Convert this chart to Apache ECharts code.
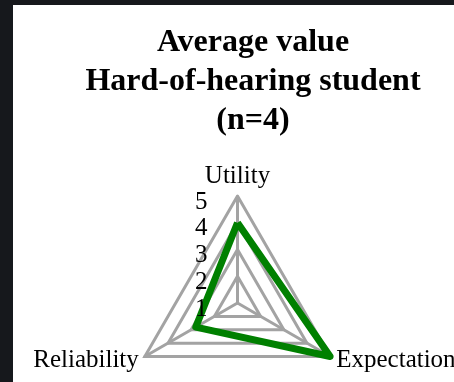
<!DOCTYPE html>
<html>
<head>
<meta charset="utf-8">
<script src="https://cdn.jsdelivr.net/npm/echarts@6/dist/echarts.min.js"></script>
<style>
  html, body { margin: 0; padding: 0; width: 454px; height: 382px; background: #16181c; overflow: hidden; }
  #panel { position: absolute; left: 13px; top: 5px; width: 441px; height: 377px; background: #ffffff; }
</style>
</head>
<body>
<div id="panel"></div>
<script>
const titleLines = ['Average value', 'Hard-of-hearing student', '(n=4)'];
const indicatorNames = ['Utility', 'Reliability', 'Expectation'];
const seriesName = 'Average value';
const seriesValues = [4.0, 2.8, 5.0];
const axisMin = 1;
const axisMax = 5;

const chart = echarts.init(document.getElementById('panel'), null, { renderer: 'canvas' });
const serif = '"Liberation Serif", "Times New Roman", serif';

const radarBase = {
  center: [224.5, 298],
  radius: 107,
  startAngle: 90,
  shape: 'polygon',
  splitNumber: 4,
  nameGap: 7
};

chart.setOption({
  animation: false,
  backgroundColor: '#ffffff',
  title: {
    text: titleLines.join('\n'),
    left: 235,
    top: 13,
    textAlign: 'center',
    textStyle: {
      fontFamily: serif,
      fontWeight: 'bold',
      fontSize: 32,
      lineHeight: 39,
      color: '#000000'
    }
  },
  radar: [
    Object.assign({}, radarBase, {
      z: 0,
      axisName: { color: '#000000', fontFamily: serif, fontSize: 25 },
      axisLine: { lineStyle: { color: '#a3a3a3', width: 3 } },
      splitLine: { lineStyle: { color: '#a3a3a3', width: 3 } },
      splitArea: { show: false },
      axisTick: { show: false },
      axisLabel: { show: false },
      indicator: indicatorNames.map(n => ({ name: n, min: axisMin, max: axisMax }))
    }),
    Object.assign({}, radarBase, {
      z: 5,
      axisName: { show: false },
      axisLine: { show: false },
      splitLine: { show: false },
      splitArea: { show: false },
      axisTick: { show: false },
      axisLabel: { show: false },
      indicator: indicatorNames.map((n, i) => {
        const ind = { name: n, min: axisMin, max: axisMax };
        if (i === 0) {
          ind.axisLabel = {
            show: true,
            color: '#000000',
            fontFamily: serif,
            fontSize: 25,
            margin: 30,
            verticalAlign: 'top',
            lineHeight: 12
          };
        }
        return ind;
      })
    })
  ],
  series: [{
    type: 'radar',
    radarIndex: 0,
    z: 2,
    name: seriesName,
    symbol: 'none',
    lineStyle: { color: '#008000', width: 7, join: 'round' },
    itemStyle: { color: '#008000' },
    data: [{ value: seriesValues, name: seriesName }]
  }]
});
</script>
</body>
</html>
